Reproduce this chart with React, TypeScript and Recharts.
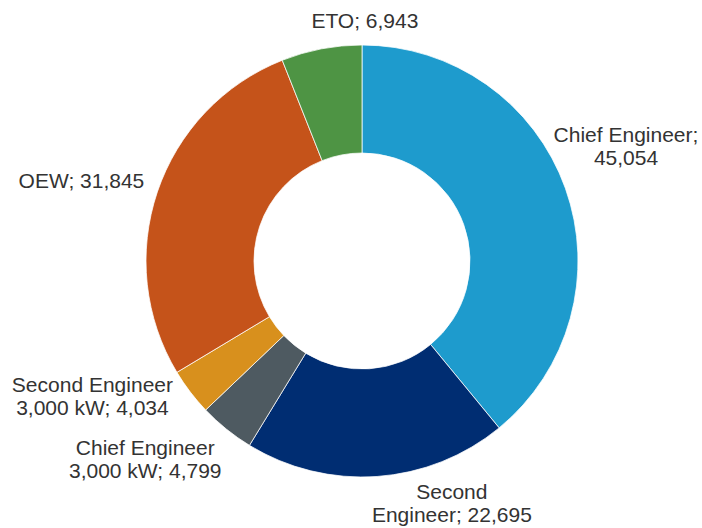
import { PieChart, Pie, Cell } from "recharts";

const categories = [
  "Chief Engineer",
  "Second Engineer",
  "Chief Engineer 3,000 kW",
  "Second Engineer 3,000 kW",
  "OEW",
  "ETO",
];
const values = [45054, 22695, 4799, 4034, 31845, 6943];
// words on the first line of each label (0 = single line)
const wrapAfter = [2, 1, 2, 2, 0, 0];
const colors = ["#1e9bcd", "#002d72", "#4e5a61", "#d8901d", "#c5531a", "#4e9444"];

// nudges from the default outside position, to sit like the original labels
const labelNudge = [
  [23, -28],
  [72, -13],
  [-56, -1],
  [-66, -20],
  [-38, 2],
  [51, 11],
];

const data = categories.map((name, i) => ({ name, value: values[i] }));

const RAD = Math.PI / 180;
const LINE_H = 23;

function renderLabel(props: any) {
  const { cx, cy, midAngle, outerRadius, index } = props;
  const r = outerRadius + 40;
  const x = cx + r * Math.cos(-midAngle * RAD) + labelNudge[index][0];
  const y = cy + r * Math.sin(-midAngle * RAD) + labelNudge[index][1];
  const full = `${categories[index]}; ${values[index].toLocaleString("en-US")}`;
  const words = full.split(" ");
  const n = wrapAfter[index];
  const lines = n > 0 ? [words.slice(0, n).join(" "), words.slice(n).join(" ")] : [full];
  const top = y - ((lines.length - 1) * LINE_H) / 2 + 7;
  return (
    <text
      x={x}
      y={top}
      textAnchor="middle"
      fill="#333333"
      fontSize={21}
      fontFamily="'Liberation Sans', Arial, sans-serif"
    >
      {lines.map((l, i) => (
        <tspan key={i} x={x} y={top + i * LINE_H}>
          {l}
        </tspan>
      ))}
    </text>
  );
}

export default function App() {
  return (
    <div style={{ position: "fixed", left: 0, top: 0, background: "#fff" }}>
      <PieChart width={702} height={528} margin={{ top: 0, right: 0, bottom: 0, left: 0 }}>
        <Pie
          data={data}
          dataKey="value"
          nameKey="name"
          cx={362}
          cy={261}
          innerRadius={108}
          outerRadius={216}
          startAngle={90}
          endAngle={-270}
          stroke="#ffffff"
          strokeWidth={0.75}
          label={renderLabel}
          labelLine={false}
          isAnimationActive={false}
        >
          {data.map((d, i) => (
            <Cell key={d.name} fill={colors[i]} />
          ))}
        </Pie>
      </PieChart>
    </div>
  );
}
